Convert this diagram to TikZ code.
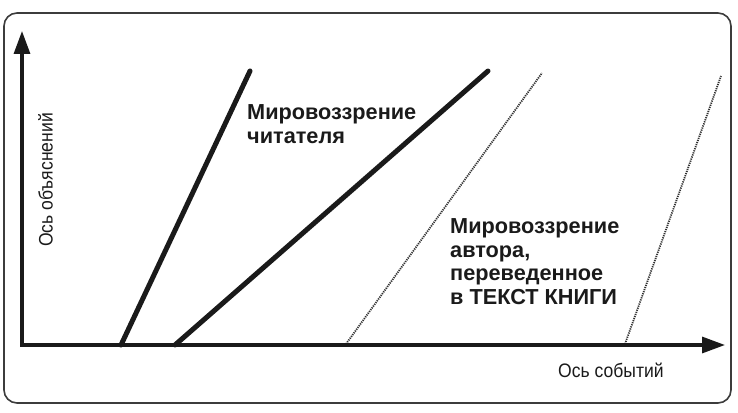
\documentclass[tikz,border=0pt]{standalone}
\usepackage{fontspec}
\setmainfont{Liberation Sans}
\newfontfamily\axisfont[FakeStretch=0.9]{Liberation Sans}
\usetikzlibrary{arrows.meta}
\definecolor{ink}{HTML}{1A1A1A}
\tikzset{
  axis/.style={draw=ink, line width=3.2pt, -{Triangle[length=23pt,width=16pt]}},
  thickline/.style={draw=ink, line width=5pt, line cap=round},
  dotline/.style={draw=ink!90, line width=1.8pt, dash pattern=on 1.2pt off 1pt},
  frame/.style={draw=ink!85, line width=1.6pt, rounded corners=13pt},
  boldlabel/.style={font=\fontsize{21.7}{23.5}\selectfont\bfseries, text=ink, align=left, inner sep=0pt, anchor=north west},
  axislabel/.style={font=\axisfont\fontsize{19.5}{21}\selectfont, text=ink, inner sep=0pt, anchor=base west}
}
\begin{document}
\begin{tikzpicture}[x=1pt,y=-1pt]
\useasboundingbox (0,0) rectangle (738,412);
\draw[frame] (4,13) rectangle (731,403);
% coordinates
\coordinate (O) at (22,345);
\coordinate (Ytip) at (22,31);
\coordinate (Xtip) at (725,345);
\coordinate (a1) at (121,345);
\coordinate (a2) at (250,71);
\coordinate (b1) at (175,345);
\coordinate (b2) at (488,71);
\coordinate (c1) at (346,344);
\coordinate (c2) at (542,73);
\coordinate (d1) at (625,344);
\coordinate (d2) at (721,76);
% lines
\draw[dotline] (c1) -- (c2);
\draw[dotline] (d1) -- (d2);
\draw[thickline] (a1) -- (a2);
\draw[thickline] (b1) -- (b2);
% axes
\draw[axis] ([xshift=-1.6pt]O) -- (Xtip);
\draw[axis] ([yshift=1.6pt]O) -- (Ytip);
% labels
\node[boldlabel] (reader) at (247,104.5) {Мировоззрение\\читателя};
\node[boldlabel] (author) at (450,218.5) {Мировоззрение\\автора,\\переведенное\\в ТЕКСТ КНИГИ};
\node[axislabel] (xlabel) at (558,377) {Ось событий};
\node[axislabel, rotate=90] (ylabel) at (52.5,247) {Ось объяснений};
\end{tikzpicture}
\end{document}
